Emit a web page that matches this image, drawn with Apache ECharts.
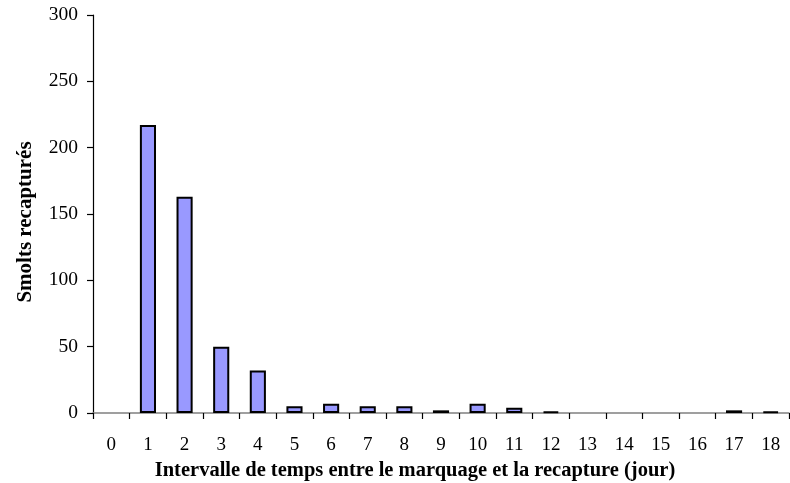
<!DOCTYPE html>
<html>
<head>
<meta charset="utf-8">
<script src="https://cdn.jsdelivr.net/npm/echarts@6/dist/echarts.min.js"></script>
<style>
html,body{margin:0;padding:0;background:#fff;}
#chart{width:790px;height:483px;}
</style>
</head>
<body>
<div id="chart"></div>
<script>
const categories = ['0','1','2','3','4','5','6','7','8','9','10','11','12','13','14','15','16','17','18'];
const recaptured = [0,217,163,50,32,5,7,5,5,2,7,4,1,0,0,0,0,2,1];
const yTicks = {min:0, max:300, interval:50};
const xTitle = 'Intervalle de temps entre le marquage et la recapture (jour)';
const yTitle = 'Smolts recapturés';

const font = '"Liberation Serif", "Times New Roman", serif';
// zero counts are not drawn as bars in the original
const barData = recaptured.map(v => (v === 0 ? '-' : v));

const chart = echarts.init(document.getElementById('chart'), null, {renderer:'canvas'});
chart.setOption({
  animation:false,
  backgroundColor:'#ffffff',
  grid:{left:93, right:1, top:15, bottom:70, containLabel:false, outerBoundsMode:'none'},
  xAxis:{
    type:'category',
    data:categories,
    boundaryGap:true,
    name:xTitle,
    nameLocation:'middle',
    nameGap:45,
    nameTextStyle:{fontFamily:font, fontWeight:'bold', fontSize:20.5, color:'#000', padding:[0,52,0,0]},
    axisLine:{show:true, lineStyle:{color:'#808080', width:1.5}},
    axisTick:{show:true, alignWithLabel:false, length:6, lineStyle:{color:'#000', width:1.2}},
    axisLabel:{fontFamily:font, fontSize:19, color:'#000', margin:23, interval:0},
    splitLine:{show:false}
  },
  yAxis:{
    type:'value',
    min:yTicks.min, max:yTicks.max, interval:yTicks.interval,
    name:yTitle,
    nameLocation:'middle',
    nameGap:57,
    nameRotate:90,
    nameTextStyle:{fontFamily:font, fontWeight:'bold', fontSize:21, color:'#000', padding:[0,16,0,0]},
    axisLine:{show:true, lineStyle:{color:'#000', width:1.2}},
    axisTick:{show:true, length:6, lineStyle:{color:'#000', width:1.2}},
    axisLabel:{fontFamily:font, fontSize:19.5, color:'#000', margin:15},
    splitLine:{show:false}
  },
  series:[{
    type:'bar',
    data:barData,
    barWidth:'44%',
    itemStyle:{color:'#9999ff', borderColor:'#000', borderWidth:2}
  }]
});
</script>
</body>
</html>
